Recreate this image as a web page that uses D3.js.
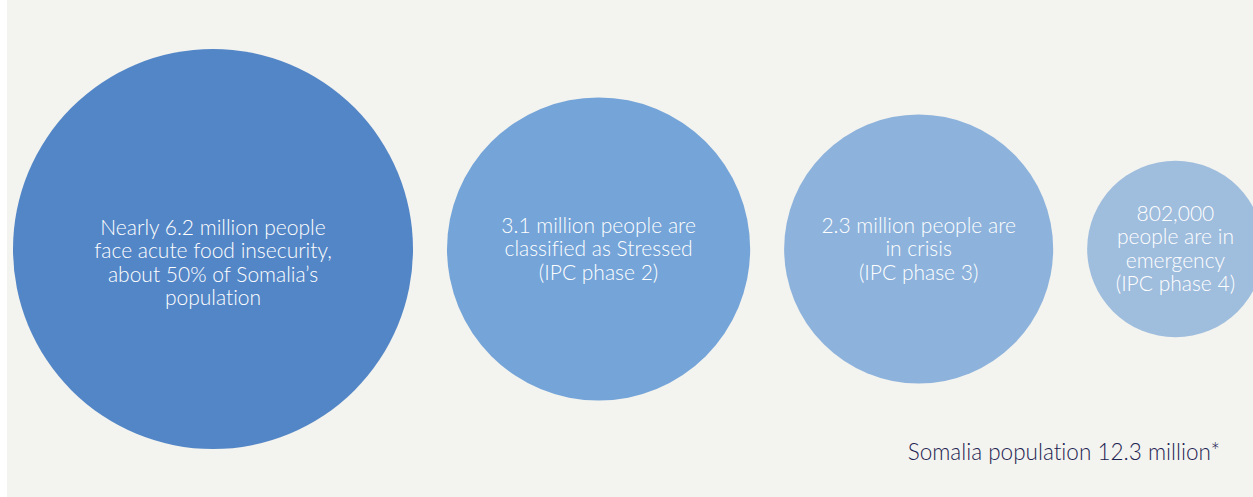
<!DOCTYPE html>
<html>
<head>
<meta charset="utf-8">
<script src="https://cdn.jsdelivr.net/npm/d3@7"></script>
<style>
  body { margin: 0; background: #fff; }
  text { font-family: Lato, "Open Sans", sans-serif; font-variant-ligatures: none; }
</style>
</head>
<body>
<svg id="chart"></svg>
<script>
// people affected, millions
const values = [6.2, 3.1, 2.3, 0.802];
const labels = [
  ["Nearly 6.2 million people", "face acute food insecurity,", "about 50% of Somalia\u2019s", "population"],
  ["3.1 million people are", "classified as Stressed", "(IPC phase 2)"],
  ["2.3 million people are", "in crisis", "(IPC phase 3)"],
  ["802,000", "people are in", "emergency", "(IPC phase 4)"]
];
const colors = ["#5386c6", "#74a4d8", "#8db3dc", "#9fbddd"];
const footnote = "Somalia population 12.3 million*";

const width = 1253, height = 497;
const gap = 34, left = 13, cy = 249;

const svg = d3.select("#chart")
  .attr("width", width)
  .attr("height", height);

// panel background, thin white strip on the left
svg.append("rect")
  .attr("x", 7).attr("y", 0)
  .attr("width", width - 7).attr("height", height)
  .attr("fill", "#f3f3ef");

// bubble size scale
const r = d3.scalePow().exponent(0.4)
  .domain([0, d3.max(values)])
  .range([0, 200]);

// lay bubbles out left to right with a fixed gap
let x = left;
const bubbles = values.map((v, i) => {
  const rad = r(v);
  const b = { v, i, r: rad, cx: x + rad, lines: labels[i], color: colors[i] };
  x += 2 * rad + gap;
  return b;
});

const g = svg.selectAll("g.bubble")
  .data(bubbles)
  .join("g")
  .attr("class", "bubble")
  .attr("transform", d => `translate(${d.cx},${cy})`);

g.append("circle")
  .attr("r", d => d.r)
  .attr("fill", d => d.color);

const lineH = 23.5;
g.append("text")
  .attr("text-anchor", "middle")
  .attr("fill", "#fff")
  .attr("font-size", 21)
  .attr("font-weight", 300)
  .selectAll("tspan")
  .data(d => d.lines.map((t, k) => ({ t, k, n: d.lines.length, first: d.i === 0 })))
  .join("tspan")
  .attr("x", 0)
  .attr("y", d => (d.k - (d.n - 1) / 2) * lineH + 7 + (d.first ? 14 : 0))
  .text(d => d.t);

svg.append("text")
  .attr("x", 1220)
  .attr("y", 460)
  .attr("text-anchor", "end")
  .attr("fill", "#1e2452")
  .attr("font-size", 22.5)
  .attr("font-weight", 300)
  .text(footnote);
</script>
</body>
</html>
